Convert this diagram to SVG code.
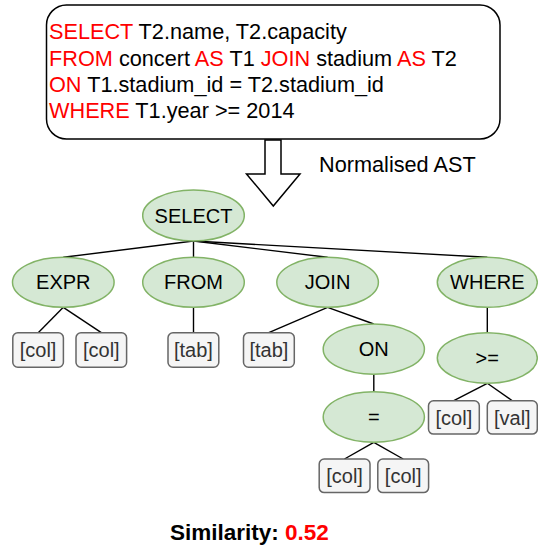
<svg xmlns="http://www.w3.org/2000/svg" width="538" height="546" viewBox="0 0 538 546">
<style>
  .sql { font-family: "Liberation Sans", Arial, sans-serif; font-size: 21.7px; fill: #000000; }
  .kw { fill: #FF0000; }
  .node ellipse { fill: #d5e8d4; stroke: #82b366; stroke-width: 1.5; }
  .leaf rect { fill: #f5f5f5; stroke: #666666; stroke-width: 1.5; }
  .lbl { font-family: "Liberation Sans", Arial, sans-serif; font-size: 20px; fill: #000000; text-anchor: middle; }
  .leaf .lbl { fill: #333333; }
  .edges line { stroke: #000000; stroke-width: 1.4; }
</style>
<rect width="538" height="546" fill="#ffffff"/>

<g id="query">
  <rect x="46.5" y="5" width="453.5" height="134" rx="20" ry="20" fill="#ffffff" stroke="#000000" stroke-width="1.5"/>
  <text class="sql" x="49" y="39"><tspan class="kw">SELECT</tspan> T2.name, T2.capacity</text>
  <text class="sql" x="49" y="65.7"><tspan class="kw">FROM</tspan> concert <tspan class="kw">AS</tspan> T1 <tspan class="kw">JOIN</tspan> stadium <tspan class="kw">AS</tspan> T2</text>
  <text class="sql" x="49" y="91.7"><tspan class="kw">ON</tspan> T1.stadium_id = T2.stadium_id</text>
  <text class="sql" x="49" y="118.3"><tspan class="kw">WHERE</tspan> T1.year &gt;= 2014</text>
</g>

<g id="arrow">
  <polygon points="265,140 281,140 281,174 300,174 273.3,206 246.5,174 265,174" fill="#ffffff" stroke="#000000" stroke-width="1.5" stroke-linejoin="miter"/>
  <text class="sql" x="319" y="172.3">Normalised AST</text>
</g>

<g class="edges" id="connectors">
  <line x1="193.5" y1="241" x2="63.3" y2="257.3"/>
  <line x1="193.5" y1="241" x2="193.5" y2="257.3"/>
  <line x1="193.5" y1="241" x2="327.6" y2="257.3"/>
  <line x1="193.5" y1="241" x2="487.3" y2="257.3"/>
  <line x1="63.3" y1="307.3" x2="38.2" y2="332.7"/>
  <line x1="63.3" y1="307.3" x2="101.3" y2="332.7"/>
  <line x1="193.5" y1="307.3" x2="193.5" y2="332.7"/>
  <line x1="327.6" y1="307.3" x2="268.8" y2="332.7"/>
  <line x1="327.6" y1="307.3" x2="373.8" y2="324"/>
  <line x1="373.8" y1="374.3" x2="373.8" y2="391.7"/>
  <line x1="373.8" y1="442.3" x2="344.5" y2="459"/>
  <line x1="373.8" y1="442.3" x2="403.2" y2="459"/>
  <line x1="487.3" y1="307.3" x2="487.3" y2="332.7"/>
  <line x1="487.3" y1="383.3" x2="453.8" y2="400.7"/>
  <line x1="487.3" y1="383.3" x2="512.3" y2="400.7"/>
</g>

<g id="n-select" class="node"><ellipse cx="193.5" cy="215.5" rx="50.8" ry="25.5"/><text class="lbl" x="193.5" y="222.5">SELECT</text></g>
<g id="n-expr" class="node"><ellipse cx="63.3" cy="282.3" rx="50.8" ry="25"/><text class="lbl" x="63.3" y="289.3">EXPR</text></g>
<g id="n-from" class="node"><ellipse cx="193.5" cy="282.3" rx="50.8" ry="25"/><text class="lbl" x="193.5" y="289.3">FROM</text></g>
<g id="n-join" class="node"><ellipse cx="327.6" cy="282.3" rx="50.8" ry="25"/><text class="lbl" x="327.6" y="289.3">JOIN</text></g>
<g id="n-where" class="node"><ellipse cx="487.3" cy="282.3" rx="50" ry="25"/><text class="lbl" x="487.3" y="289.3">WHERE</text></g>
<g id="n-on" class="node"><ellipse cx="373.8" cy="349.2" rx="50.6" ry="25.1"/><text class="lbl" x="373.8" y="356.2">ON</text></g>
<g id="n-eq" class="node"><ellipse cx="373.8" cy="417" rx="50.6" ry="25.3"/><text class="lbl" x="373.8" y="424">=</text></g>
<g id="n-ge" class="node"><ellipse cx="487.3" cy="358" rx="50" ry="25.3"/><text class="lbl" x="487.3" y="365">&gt;=</text></g>

<g id="l-expr-col1" class="leaf"><rect x="12.8" y="332.7" width="50.6" height="34.6" rx="5"/><text class="lbl" x="38.1" y="357">[col]</text></g>
<g id="l-expr-col2" class="leaf"><rect x="76" y="332.7" width="50.6" height="34.6" rx="5"/><text class="lbl" x="101.3" y="357">[col]</text></g>
<g id="l-from-tab" class="leaf"><rect x="168" y="332.7" width="50.8" height="34.6" rx="5"/><text class="lbl" x="193.4" y="357">[tab]</text></g>
<g id="l-join-tab" class="leaf"><rect x="243.5" y="332.7" width="50.8" height="34.6" rx="5"/><text class="lbl" x="268.9" y="357">[tab]</text></g>
<g id="l-ge-col" class="leaf"><rect x="428.5" y="400.7" width="50.8" height="33.4" rx="5"/><text class="lbl" x="453.9" y="424.5">[col]</text></g>
<g id="l-ge-val" class="leaf"><rect x="487.3" y="400.7" width="50" height="33.4" rx="5"/><text class="lbl" x="512.3" y="424.5">[val]</text></g>
<g id="l-eq-col1" class="leaf"><rect x="319.2" y="459" width="50.8" height="33.6" rx="5"/><text class="lbl" x="344.6" y="483">[col]</text></g>
<g id="l-eq-col2" class="leaf"><rect x="377.8" y="459" width="50.8" height="33.6" rx="5"/><text class="lbl" x="403.2" y="483">[col]</text></g>

<g id="similarity">
  <text x="170" y="540" style="font-family: 'Liberation Sans', Arial, sans-serif; font-size: 22.5px; font-weight: bold; fill: #000000;">Similarity: <tspan fill="#FF0000">0.52</tspan></text>
</g>
</svg>
